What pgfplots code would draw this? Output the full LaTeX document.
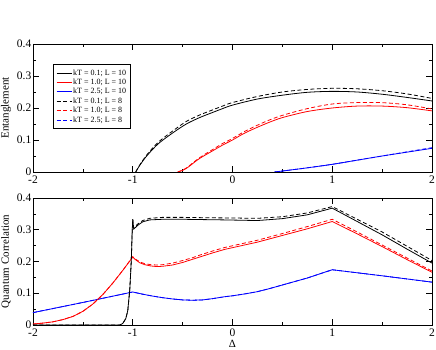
\documentclass[border=0pt]{standalone}
\usepackage{fontspec}
\setmainfont{Liberation Serif}
\usepackage{pgfplots}
\pgfplotsset{compat=1.18}
\begin{document}
\begin{tikzpicture}
\useasboundingbox (0pt,0pt) rectangle (436pt,350pt);
\pgfplotsset{
  myax/.style={
    scale only axis, width=399pt,
    xmin=-2, xmax=2, ymin=0, ymax=0.4,
    xtick={-2,-1,0,1,2}, minor xtick={-1.5,-0.5,0.5,1.5},
    ytick={0,0.1,0.2,0.3,0.4}, minor ytick={0.05,0.15,0.25,0.35},
    tick align=inside, major tick length=6pt, minor tick length=3pt,
    tick style={black, line width=0.6pt},
    axis line style={line width=0.7pt},
    ticklabel style={font=\fontsize{11.5}{12}\selectfont},
    /pgf/number format/assume math mode=true,
    yticklabel style={/pgf/number format/fixed, inner xsep=1.5pt},
    label style={font=\fontsize{11}{12}\selectfont},
    ylabel style={at={(axis description cs:-0.0677,0.5)}, anchor=center},
    every axis plot/.append style={line width=0.8pt},
  },
  dsh/.style={dash pattern=on 4pt off 2.5pt},
}
% ---------------- top axis: Entanglement ----------------
\begin{axis}[myax, height=128pt, at={(33pt,178pt)}, anchor=south west,
  ylabel={Entanglement},
  legend style={at={(axis description cs:0.05,0.844)}, anchor=north west,
    font=\fontsize{8}{9}\selectfont, draw=black, line width=0.6pt,
    inner xsep=3pt, inner ysep=4pt, row sep=0pt,
    nodes={inner sep=1.1pt, text height=5.8pt, text depth=1.4pt}},
  legend cell align=left,
  legend image code/.code={\draw[#1] (0pt,0pt) -- (15pt,0pt);},
]
\addplot[black, smooth] coordinates {
(-0.97,0) (-0.94,0.016) (-0.9,0.034) (-0.863,0.049) (-0.8,0.071) (-0.73,0.092)
(-0.6,0.122) (-0.463,0.150) (-0.33,0.170) (-0.2,0.186) (-0.1,0.198) (0,0.209)
(0.25,0.228) (0.5,0.24) (0.75,0.249) (1,0.252) (1.25,0.25) (1.5,0.243)
(1.75,0.233) (2,0.222)};
\addlegendentry{kT = 0.1; L = 10}
\addplot[red, smooth] coordinates {
(-0.55,0) (-0.5,0.005) (-0.45,0.014) (-0.4,0.026) (-0.35,0.038) (-0.3,0.048)
(-0.2,0.066) (-0.1,0.084) (0,0.1) (0.1,0.118) (0.2,0.133) (0.35,0.153)
(0.5,0.17) (0.75,0.189) (1,0.2) (1.25,0.206) (1.5,0.206) (1.75,0.201) (2,0.191)};
\addlegendentry{kT = 1.0; L = 10}
\addplot[blue, smooth] coordinates {
(0.42,0) (0.5,0.003) (0.6,0.007) (0.75,0.013) (1,0.024) (1.25,0.037)
(1.5,0.05) (1.75,0.062) (2,0.074)};
\addlegendentry{kT = 2.5; L = 10}
\addplot[black, dsh, smooth] coordinates {
(-0.97,0) (-0.94,0.017) (-0.9,0.036) (-0.863,0.052) (-0.8,0.075) (-0.73,0.097)
(-0.6,0.128) (-0.463,0.158) (-0.33,0.178) (-0.2,0.194) (-0.1,0.206) (0,0.217)
(0.25,0.236) (0.5,0.25) (0.75,0.258) (1,0.2615) (1.25,0.26) (1.5,0.254)
(1.75,0.244) (2,0.23)};
\addlegendentry{kT = 0.1; L = 8}
\addplot[red, dsh, smooth] coordinates {
(-0.55,0) (-0.5,0.006) (-0.45,0.015) (-0.4,0.028) (-0.35,0.04) (-0.3,0.051)
(-0.2,0.07) (-0.1,0.089) (0,0.105) (0.1,0.123) (0.2,0.139) (0.35,0.16)
(0.5,0.177) (0.75,0.198) (1,0.2125) (1.25,0.217) (1.5,0.2167) (1.75,0.21) (2,0.197)};
\addlegendentry{kT = 1.0; L = 8}
\addplot[blue, dsh, smooth] coordinates {
(0.42,0) (0.5,0.003) (0.6,0.007) (0.75,0.013) (1,0.024) (1.25,0.037)
(1.5,0.05) (1.75,0.063) (2,0.076)};
\addlegendentry{kT = 2.5; L = 8}
\end{axis}
% ---------------- bottom axis: Quantum Correlation ----------------
\begin{axis}[myax, height=127pt, at={(33pt,25pt)}, anchor=south west,
  ylabel={Quantum Correlation},
  xlabel={Δ},
  xlabel style={at={(axis description cs:0.5,0)}, yshift=-19pt, anchor=center},
]
\addplot[blue] coordinates {
(-2,0.039) (-1.5,0.071) (-1,0.104) (-0.9,0.097) (-0.8,0.091) (-0.7,0.086)
(-0.6,0.082) (-0.5,0.079) (-0.4,0.078) (-0.3,0.079) (-0.2,0.083) (-0.08,0.089)
(0,0.092) (0.125,0.098) (0.25,0.105) (0.375,0.115) (0.5,0.126) (0.625,0.137)
(0.75,0.148) (0.875,0.161) (1,0.174) (1.5,0.155) (2,0.135)};
\addplot[blue, dsh] coordinates {
(-2,0.039) (-1.5,0.071) (-1,0.104) (-0.9,0.097) (-0.8,0.091) (-0.7,0.086)
(-0.6,0.082) (-0.5,0.079) (-0.4,0.078) (-0.3,0.079) (-0.2,0.083) (-0.08,0.089)
(0,0.092) (0.125,0.098) (0.25,0.105) (0.375,0.115) (0.5,0.126) (0.625,0.137)
(0.75,0.148) (0.875,0.161) (1,0.174) (1.5,0.155) (2,0.135)};
\addplot[red] coordinates {
(-2,0.003) (-1.9,0.006) (-1.8,0.01) (-1.7,0.017) (-1.6,0.027) (-1.5,0.043)
(-1.4,0.066) (-1.3,0.096) (-1.2,0.132) (-1.1,0.172) (-1.0,0.214)
(-0.97,0.205) (-0.93,0.196) (-0.88,0.19) (-0.82,0.186) (-0.76,0.184)
(-0.7,0.185) (-0.6,0.189) (-0.5,0.197) (-0.4,0.207) (-0.33,0.214) (-0.2,0.227)
(-0.08,0.238) (0.25,0.261) (0.5,0.282) (0.75,0.303) (1,0.326)
(1.25,0.287) (1.5,0.247) (1.75,0.206) (2,0.166)};
\addplot[red, dsh] coordinates {
(-2,0.003) (-1.9,0.006) (-1.8,0.01) (-1.7,0.017) (-1.6,0.027) (-1.5,0.043)
(-1.4,0.066) (-1.3,0.096) (-1.2,0.132) (-1.1,0.172) (-1.0,0.215)
(-0.97,0.207) (-0.93,0.199) (-0.88,0.193) (-0.82,0.19) (-0.76,0.189)
(-0.7,0.19) (-0.6,0.195) (-0.5,0.203) (-0.4,0.212) (-0.33,0.22) (-0.2,0.233)
(-0.08,0.244) (0.25,0.267) (0.5,0.288) (0.75,0.31) (1,0.333)
(1.25,0.293) (1.5,0.252) (1.75,0.211) (2,0.17)};
\addplot[black] coordinates {
(-2,0) (-1.13,0) (-1.1,0.005) (-1.07,0.02) (-1.05,0.045) (-1.03,0.11)
(-1.015,0.2) (-1.005,0.3) (-1.0,0.333) (-0.99,0.302) (-0.95,0.314) (-0.9,0.325)
(-0.83,0.331) (-0.7,0.333) (-0.5,0.333) (-0.3,0.332) (-0.08,0.331) (0.25,0.329)
(0.5,0.335) (0.75,0.347) (1,0.368) (1.25,0.326) (1.5,0.284) (1.75,0.239) (2,0.195)};
\addplot[black, dsh] coordinates {
(-2,0) (-1.13,0) (-1.1,0.005) (-1.07,0.02) (-1.05,0.045) (-1.03,0.11)
(-1.015,0.2) (-1.005,0.3) (-1.0,0.333) (-0.99,0.305) (-0.95,0.318) (-0.9,0.329)
(-0.83,0.336) (-0.7,0.339) (-0.5,0.339) (-0.3,0.338) (0,0.337) (0.25,0.336)
(0.5,0.341) (0.75,0.353) (1,0.373) (1.25,0.333) (1.5,0.293) (1.75,0.248) (2,0.203)};
\end{axis}
\end{tikzpicture}
\end{document}
